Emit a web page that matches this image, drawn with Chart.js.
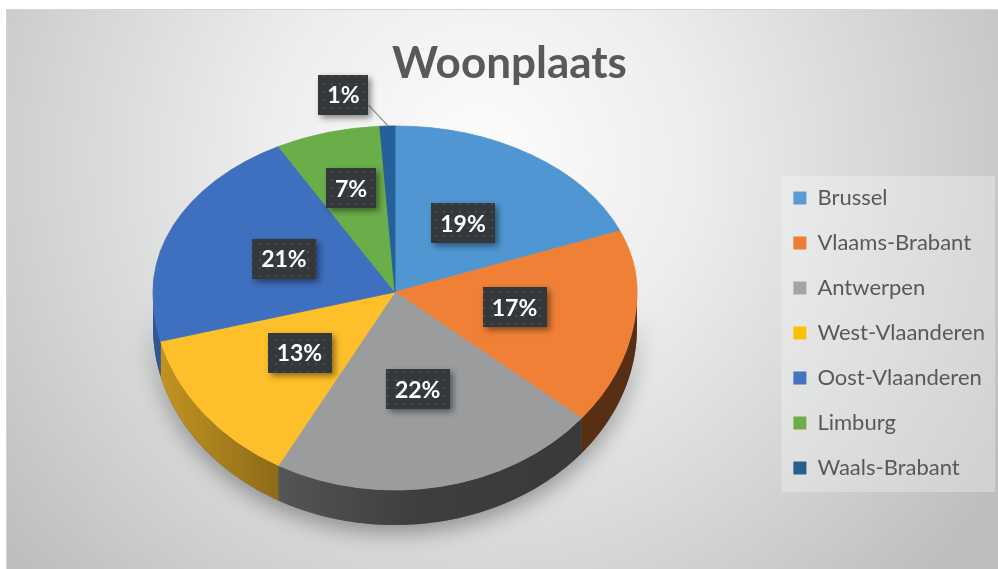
<!DOCTYPE html>
<html>
<head>
<meta charset="utf-8">
<title>Woonplaats</title>
<script src="https://cdn.jsdelivr.net/npm/chart.js@4.4.1/dist/chart.umd.min.js"></script>
<style>
  html, body { margin: 0; padding: 0; background: #ffffff; }
  #wrap { width: 998px; height: 569px; position: relative; }
</style>
</head>
<body>
<div id="wrap"><canvas id="mycanvas"></canvas></div>
<script>
// data (percent per province)
var provinces = ['Brussel', 'Vlaams-Brabant', 'Antwerpen', 'West-Vlaanderen', 'Oost-Vlaanderen', 'Limburg', 'Waals-Brabant'];
var shares = [19, 17, 22, 13, 21, 7, 1];
var sliceColors = ['#4f96d2', '#f08035', '#9a9c9d', '#fdc02a', '#3f6fbf', '#6aae4a', '#24609a'];
var legendColors = ['#5b9bd5', '#ed7d31', '#a5a5a5', '#ffc000', '#4472c4', '#70ad47', '#255e91'];

// 3d look: where the tilted pie sits and how flat it is
var PX = 395, PY = 292, RADIUS = 242;
var K_TOP = 0.686, K_BOT = 0.818, DEPTH = 35;

function shade(hex, f) {
    var n = parseInt(hex.slice(1), 16);
    var r = Math.round(((n >> 16) & 255) * f);
    var g = Math.round(((n >> 8) & 255) * f);
    var b = Math.round((n & 255) * f);
    return 'rgb(' + r + ',' + g + ',' + b + ')';
}

function project(ctx, arc, k) {
    ctx.translate(PX, PY);
    ctx.scale(1, k);
    ctx.translate(-arc.x, -arc.y);
}

function projPoint(angle, r) {
    var dx = r * Math.cos(angle), dy = r * Math.sin(angle);
    return [PX + dx, PY + dy * (dy < 0 ? K_TOP : K_BOT)];
}

var tile = document.createElement('canvas');
tile.width = tile.height = 8;
var tc = tile.getContext('2d');
tc.fillStyle = '#35383a';
tc.fillRect(0, 0, 8, 8);
tc.fillStyle = '#4a4d50';
tc.fillRect(3, 3, 2, 2);

function sidePath(ctx, a0, a1) {
    var steps = Math.max(2, Math.ceil((a1 - a0) * 60));
    ctx.beginPath();
    for (var s = 0; s <= steps; s++) {
        var t = a0 + (a1 - a0) * s / steps;
        var p = projPoint(t, RADIUS);
        if (s === 0) ctx.moveTo(p[0], p[1]); else ctx.lineTo(p[0], p[1]);
    }
    for (var s2 = steps; s2 >= 0; s2--) {
        var t2 = a0 + (a1 - a0) * s2 / steps;
        var q = projPoint(t2, RADIUS);
        ctx.lineTo(q[0], q[1] + DEPTH);
    }
    ctx.closePath();
}

var pie3d = {
    id: 'pie3d',
    beforeDraw: function(chart) {
        var ctx = chart.ctx;
        ctx.save();
        ctx.fillStyle = '#ffffff';
        ctx.fillRect(0, 0, chart.width, chart.height);
        var bg = ctx.createRadialGradient(480, 160, 0, 480, 160, 620);
        bg.addColorStop(0, '#fdfdfd');
        bg.addColorStop(0.35, '#ededed');
        bg.addColorStop(1, '#bcbebe');
        ctx.fillStyle = bg;
        ctx.fillRect(7, 10, chart.width - 7, chart.height - 10);
        ctx.strokeStyle = '#d4d4d4';
        ctx.lineWidth = 1;
        ctx.strokeRect(6.5, 9.5, chart.width, chart.height);

        // legend panel
        var hb = chart.legend.legendHitBoxes;
        if (hb && hb.length) {
            var right = 0;
            hb.forEach(function(h) { right = Math.max(right, h.left + h.width); });
            var last = hb[hb.length - 1];
            var x0 = hb[0].left - 12, y0 = hb[0].top - 11;
            ctx.fillStyle = 'rgba(255,255,255,0.28)';
            ctx.fillRect(x0, y0, right + 10 - x0, last.top + last.height + 13 - y0);
        }
        ctx.restore();
    },
    beforeDatasetsDraw: function(chart) {
        var ctx = chart.ctx;
        var arcs = chart.getDatasetMeta(0).data;

        // soft shadow under the pie
        ctx.save();
        ctx.shadowColor = 'rgba(0,0,0,0.35)';
        ctx.shadowBlur = 22;
        ctx.shadowOffsetY = 8;
        ctx.fillStyle = '#555';
        sidePath(ctx, 0, Math.PI);
        ctx.fill();
        ctx.restore();

        // side walls
        ctx.save();
        arcs.forEach(function(arc, i) {
            var a0 = Math.max(arc.startAngle, 0);
            var a1 = Math.min(arc.endAngle, Math.PI);
            if (a1 <= a0) return;
            var c = sliceColors[i];
            var grad = ctx.createLinearGradient(PX - RADIUS, 0, PX + RADIUS, 0);
            grad.addColorStop(0, shade(c, 0.78));
            grad.addColorStop(0.3, shade(c, 0.52));
            grad.addColorStop(0.55, shade(c, 0.4));
            grad.addColorStop(1, shade(c, 0.36));
            ctx.fillStyle = grad;
            sidePath(ctx, a0, a1);
            ctx.fill();
        });
        ctx.restore();

        // back half of the top face
        ctx.save();
        ctx.beginPath();
        ctx.rect(0, 0, chart.width, PY);
        ctx.clip();
        project(ctx, arcs[0], K_TOP);
    },
    afterDatasetsDraw: function(chart) {
        var ctx = chart.ctx;
        var meta = chart.getDatasetMeta(0);
        ctx.restore();

        // front half of the top face
        ctx.save();
        ctx.beginPath();
        ctx.rect(0, PY, chart.width, chart.height - PY);
        ctx.clip();
        project(ctx, meta.data[0], K_BOT);
        meta.controller.draw();
        ctx.restore();

        // value labels
        ctx.save();
        ctx.font = 'bold 23px Lato';
        ctx.textAlign = 'center';
        ctx.textBaseline = 'middle';
        var pattern = ctx.createPattern(tile, 'repeat');
        meta.data.forEach(function(arc, i) {
            var mid = (arc.startAngle + arc.endAngle) / 2;
            var text = shares[i] + '%';
            var w = ctx.measureText(text).width + 18, h = 40;
            var p;
            if (shares[i] < 3) {
                var e = projPoint(mid, RADIUS);
                p = [e[0] - 44, e[1] - 31];
                ctx.strokeStyle = '#8c8c8c';
                ctx.lineWidth = 1.2;
                ctx.beginPath();
                ctx.moveTo(p[0] + w / 2, p[1] + 10);
                ctx.lineTo(e[0] + 1, e[1]);
                ctx.stroke();
            } else {
                p = projPoint(mid, RADIUS * (shares[i] < 10 ? 0.65 : 0.5));
            }
            ctx.save();
            ctx.shadowColor = 'rgba(0,0,0,0.45)';
            ctx.shadowBlur = 6;
            ctx.shadowOffsetX = 3;
            ctx.shadowOffsetY = 3;
            ctx.fillStyle = pattern;
            ctx.fillRect(Math.round(p[0] - w / 2), Math.round(p[1] - h / 2), Math.round(w), h);
            ctx.restore();
            ctx.fillStyle = '#ffffff';
            ctx.fillText(text, p[0], p[1] + 1);
        });
        ctx.restore();
    }
};

var ctx = document.getElementById('mycanvas');
var myChart = new Chart(ctx, {
    type: 'pie',
    data: {
        labels: provinces,
        datasets: [{
            data: shares,
            backgroundColor: sliceColors,
            borderColor: sliceColors,
            borderWidth: 1,
            radius: RADIUS,
            clip: false
        }]
    },
    options: {
        responsive: true,
        maintainAspectRatio: false,
        animation: false,
        devicePixelRatio: 1,
        events: [],
        layout: { padding: { top: 10, left: 24, right: 3, bottom: -87 } },
        plugins: {
            title: {
                display: true,
                text: 'Woonplaats',
                color: '#595959',
                font: { family: 'Lato', size: 44, weight: 'bold' },
                padding: { top: 27, bottom: 5 }
            },
            legend: {
                position: 'right',
                labels: {
                    boxWidth: 13,
                    boxHeight: 13,
                    padding: 23,
                    color: '#595959',
                    font: { family: 'Lato', size: 22 },
                    generateLabels: function(chart) {
                        return provinces.map(function(name, i) {
                            return {
                                text: name,
                                fillStyle: legendColors[i],
                                strokeStyle: legendColors[i],
                                lineWidth: 0,
                                fontColor: '#595959',
                                hidden: false,
                                index: i
                            };
                        });
                    }
                }
            },
            tooltip: { enabled: false }
        }
    },
    plugins: [pie3d]
});
</script>
</body>
</html>
